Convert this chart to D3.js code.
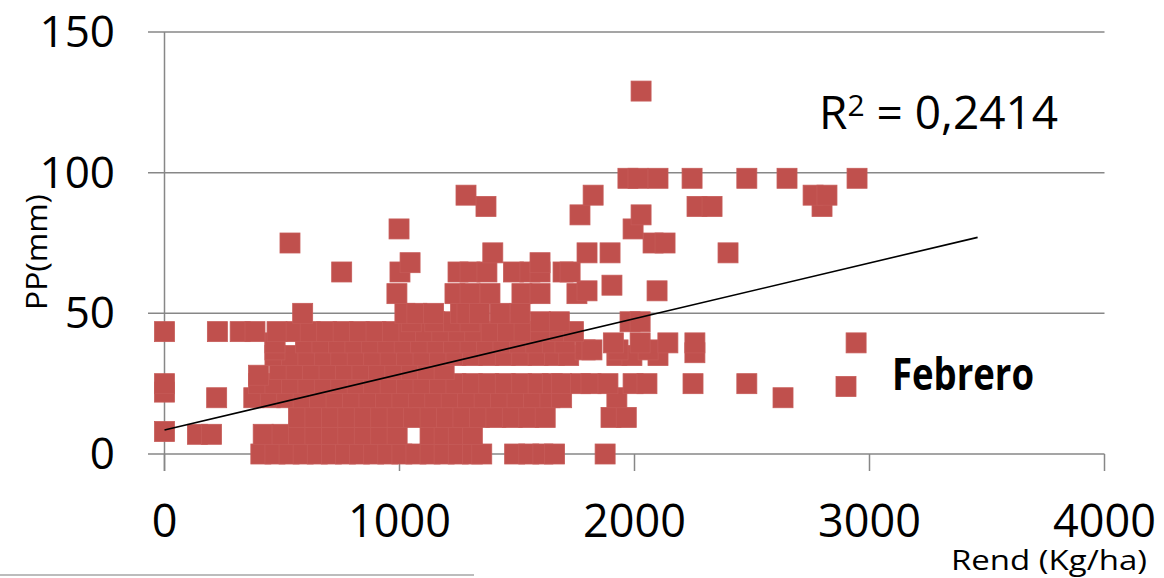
<!DOCTYPE html>
<html><head><meta charset="utf-8">
<script src="https://cdn.jsdelivr.net/npm/d3@7"></script>
<style>html,body{margin:0;padding:0;background:#fff;}svg{display:block;}</style>
</head><body>
<svg id="c" width="1164" height="578"></svg>
<script>
// ---- data ----
const xTicks = [0, 1000, 2000, 3000, 4000];
const yTicks = [0, 50, 100, 150];
// PP levels (mm) and the yields (Kg/ha) observed at each level
const ppLevels = [0, 7, 8, 13, 20, 22, 24, 25, 28, 30, 35, 36, 37, 39.5, 43.5, 47, 50, 57, 58, 60, 64.7, 68, 71.5, 75, 80, 85, 88, 92, 98, 129];
const rendByLevel = [
  [410, 470, 530, 590, 650, 710, 770, 830, 890, 950, 1010, 1070, 1130, 1190, 1250, 1310, 1350, 1490, 1550, 1610, 1660, 1875],
  [140, 200, 420, 500, 570, 640, 710, 780, 850, 920, 990, 1130, 1190, 1250, 1310],
  [0],
  [570, 640, 710, 780, 850, 920, 990, 1060, 1130, 1200, 1270, 1340, 1410, 1480, 1550, 1620, 1900, 1965],
  [222, 380, 450, 520, 590, 660, 730, 800, 870, 940, 1010, 1080, 1150, 1220, 1290, 1360, 1430, 1500, 1570, 1640, 1690, 1925, 2632],
  [0],
  [2900],
  [0, 400, 470, 540, 610, 680, 750, 820, 890, 960, 1030, 1100, 1170, 1240, 1310, 1380, 1450, 1520, 1590, 1650, 1690, 1770, 1815, 1887, 1994, 2053, 2249, 2478],
  [400],
  [490, 560, 630, 700, 770, 840, 910, 980, 1050, 1120, 1190],
  [470, 540, 610, 680, 750, 820, 890, 960, 1030, 1100, 1170, 1240, 1310, 1380, 1450, 1520, 1590, 1660, 1720, 1925, 1989, 2100],
  [2257],
  [470, 1790, 1819, 1930, 2058],
  [470, 600, 670, 740, 810, 880, 950, 1020, 1090, 1160, 1230, 1300, 1370, 1440, 1510, 1580, 1650, 1704, 1910, 2024, 2142, 2257, 2943],
  [0, 225, 322, 385, 479, 560, 620, 690, 760, 830, 900, 970, 1040, 1110, 1180, 1250, 1320, 1390, 1460, 1530, 1600, 1680, 1740],
  [1050, 1150, 1230, 1300, 1600, 1680, 1981, 2024],
  [588, 1023, 1074, 1145, 1260, 1287, 1340, 1428, 1513],
  [989, 1236, 1300, 1385, 1521, 1598, 1755],
  [1798, 2096],
  [1904],
  [754, 1002, 1249, 1300, 1372, 1485, 1555, 1598, 1696, 1726],
  [1045, 1598],
  [1397, 1798, 1896, 2398],
  [534, 2079, 2130],
  [998, 1994],
  [1768, 2028],
  [1368, 2266, 2330, 2798],
  [1283, 1824, 2760, 2819],
  [1972, 2015, 2100, 2245, 2478, 2649, 2947],
  [2028]
];
// linear trendline
const trendX = [0, 3460];
const trendIntercept = 8.5;
const trendSlope = 0.0198;
const r2Parts = ["R", "2", " = 0,2414"];
const monthLabel = "Febrero";
const xTitle = "Rend (Kg/ha)";
const yTitle = "PP(mm)";

// ---- drawing ----
const svg = d3.select("#c");
const x = d3.scaleLinear().domain([0, 4000]).range([164.5, 1104.5]);
const y = d3.scaleLinear().domain([0, 150]).range([454, 32]);
const grid = "#878787";
const font = "'Open Sans', 'Noto Sans', sans-serif";

// horizontal gridlines (extend left as ticks)
svg.append("g").selectAll("line").data(yTicks).join("line")
  .attr("x1", 148).attr("x2", x(4000))
  .attr("y1", d => y(d)).attr("y2", d => y(d))
  .attr("stroke", grid).attr("stroke-width", 1.5);
// y axis line
svg.append("line").attr("x1", x(0)).attr("x2", x(0)).attr("y1", y(150)).attr("y2", 471)
  .attr("stroke", grid).attr("stroke-width", 1.5);
// x ticks
svg.append("g").selectAll("line").data(xTicks).join("line")
  .attr("x1", d => x(d)).attr("x2", d => x(d)).attr("y1", y(0)).attr("y2", 471)
  .attr("stroke", grid).attr("stroke-width", 1.5);

// points
const pts = [];
ppLevels.forEach((p, i) => rendByLevel[i].forEach(r => pts.push([r, p])));
const s = 20;
svg.append("g").selectAll("rect").data(pts).join("rect")
  .attr("x", d => x(d[0]) - s / 2).attr("y", d => y(d[1]) - s / 2)
  .attr("width", s).attr("height", s)
  .attr("fill", "#C0504D").attr("stroke", "#C65B58").attr("stroke-width", 0.8);

// trendline
svg.append("line")
  .attr("x1", x(trendX[0])).attr("y1", y(trendIntercept + trendSlope * trendX[0]))
  .attr("x2", x(trendX[1])).attr("y2", y(trendIntercept + trendSlope * trendX[1]))
  .attr("stroke", "#000").attr("stroke-width", 1.6);

// tick labels
svg.append("g").selectAll("text").data(yTicks).join("text")
  .attr("x", 115).attr("y", d => y(d) + 15).attr("text-anchor", "end")
  .attr("font-family", font).attr("font-size", 44).attr("fill", "#000").text(d => d);
svg.append("g").selectAll("text").data(xTicks).join("text")
  .attr("x", d => x(d)).attr("y", 537).attr("text-anchor", "middle")
  .attr("font-family", font).attr("font-size", 45).attr("fill", "#000").text(d => d);

// annotations
const r2 = svg.append("text").attr("x", 819).attr("y", 129)
  .attr("font-family", font).attr("font-size", 46).attr("fill", "#000");
r2.append("tspan").text(r2Parts[0]);
r2.append("tspan").attr("font-size", 30).attr("dy", -13).text(r2Parts[1]);
r2.append("tspan").attr("dy", 13).text(r2Parts[2]);

svg.append("text").attr("x", 892).attr("y", 390)
  .attr("font-family", font).attr("font-size", 45).attr("font-weight", "bold")
  .attr("textLength", 142).attr("lengthAdjust", "spacingAndGlyphs").attr("fill", "#000").text(monthLabel);
svg.append("text").attr("x", 951).attr("y", 570)
  .attr("font-family", font).attr("font-size", 27)
  .attr("textLength", 196).attr("lengthAdjust", "spacingAndGlyphs").attr("fill", "#000").text(xTitle);
svg.append("text").attr("transform", "translate(47,252) rotate(-90)").attr("text-anchor", "middle")
  .attr("font-family", font).attr("font-size", 30)
  .attr("textLength", 116).attr("lengthAdjust", "spacingAndGlyphs").attr("fill", "#000").text(yTitle);

// stray underline at the bottom left
svg.append("line").attr("x1", 0).attr("x2", 474).attr("y1", 575).attr("y2", 575)
  .attr("stroke", "#a6a6a6").attr("stroke-width", 1.5);
</script>
</body></html>
